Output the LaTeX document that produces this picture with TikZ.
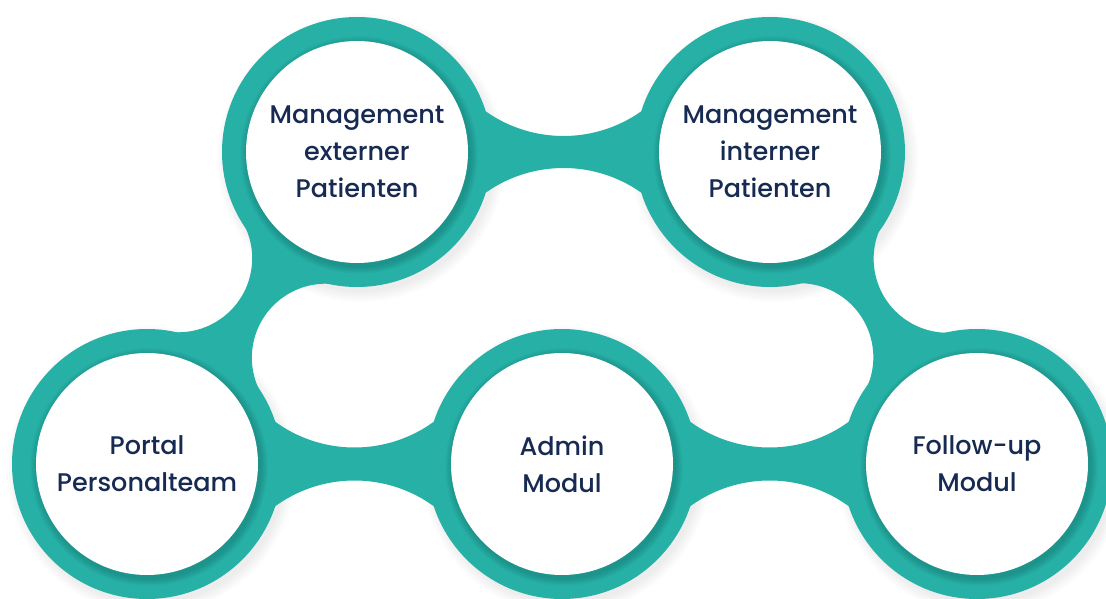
\documentclass[tikz,border=0pt]{standalone}
\usepackage{fontspec}
\setmainfont{Poppins}[UprightFont={Poppins Medium}]
\usetikzlibrary{backgrounds}

\definecolor{tealring}{RGB}{38,176,166}
\definecolor{navytext}{RGB}{22,42,82}

\tikzset{
  module/.style={circle, fill=white, minimum size=222pt, inner sep=0pt,
    align=center, text=navytext, font=\fontsize{25.5}{37}\selectfont},
  ring/.style={fill=tealring}
}

% #1,#2 node names, #3 neck half width, #4 radius of the concave edges
\newcommand{\bridge}[4]{%
  \pgfpointanchor{#1}{center}\pgfgetlastxy{\brAx}{\brAy}%
  \pgfpointanchor{#2}{center}\pgfgetlastxy{\brBx}{\brBy}%
  \pgfmathsetmacro{\brd}{veclen(\brBx-\brAx,\brBy-\brAy)}%
  \pgfmathsetmacro{\bra}{atan2(\brBy-\brAy,\brBx-\brAx)}%
  \pgfmathsetmacro{\brt}{atan2(#3+#4,\brd/2)}%
  \pgfmathsetmacro{\brm}{veclen(\brd/2,#3+#4)}%
  \pgfmathsetmacro{\brx}{\brd/2*(1-#4/\brm)}%
  \pgfmathsetmacro{\bry}{(#3+#4)*(1-#4/\brm)}%
  \begin{scope}[shift={(#1.center)}, rotate=\bra]
    \fill[ring] (0,0) -- (\brx,\bry)
      arc[start angle=180+\brt, end angle=360-\brt, radius=#4]
      -- (\brd,0) -- (\brd-\brx,-\bry)
      arc[start angle=\brt, end angle=180-\brt, radius=#4] -- cycle;
  \end{scope}}

\begin{document}
\begin{tikzpicture}[x=1pt,y=1pt]
  \useasboundingbox (0,0) rectangle (1106,598);

  \node[module] (extern)   at (357,446) {Management\\externer\\Patienten};
  \node[module] (intern)   at (770,446) {Management\\interner\\Patienten};
  \node[module] (portal)   at (147,134) {Portal\\Personalteam};
  \node[module] (admin)    at (562,134) {Admin\\Modul};
  \node[module] (followup) at (977,134) {Follow-up\\Modul};

  \begin{scope}[on background layer]
    \fill[white] (0,0) rectangle (1106,598);
    % soft shadow under the rings
    \foreach \n in {extern,intern,portal,admin,followup}
      \foreach \k in {1,...,6}
        \fill[black,opacity=0.012] ([shift={(4,-6)}]\n.center) circle (132+\k*2);

    \bridge{extern}{intern}{16}{135}
    \bridge{portal}{admin}{16.5}{135}
    \bridge{admin}{followup}{16.5}{135}
    \bridge{extern}{portal}{15}{74}
    \bridge{intern}{followup}{15}{74}

    \foreach \n in {extern,intern,portal,admin,followup}
      \fill[ring] (\n.center) circle (135);

    % shadow of the white discs on the rings
    \foreach \n in {extern,intern,portal,admin,followup}
      \foreach \k in {1,...,5}
        \fill[black,opacity=0.03] ([shift={(2,-3)}]\n.center) circle (111+\k*1.5);
  \end{scope}
\end{tikzpicture}
\end{document}
